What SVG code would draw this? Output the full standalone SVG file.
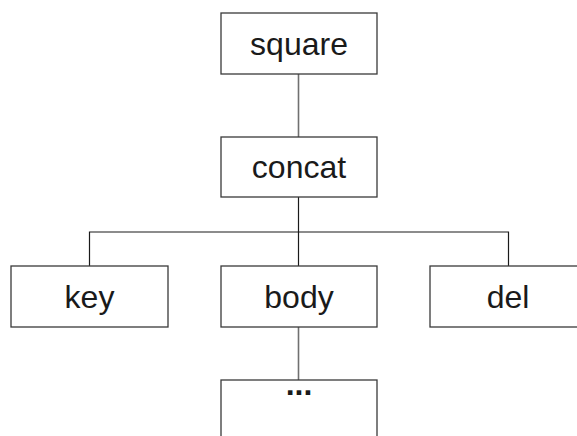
<svg xmlns="http://www.w3.org/2000/svg" width="577" height="436" viewBox="0 0 577 436">
<style>
.box{fill:#fff;stroke:#3a3a3a;stroke-width:1.3}
.lbl{font-family:"Liberation Sans",Arial,sans-serif;font-size:32px;fill:#1a1a1a;text-anchor:middle}
.dots{font-weight:bold}
.c1{stroke:#707070;stroke-width:1.6;fill:none}
.c2{stroke:#1a1a1a;stroke-width:1.2;fill:none}
</style>
<rect width="577" height="436" fill="#fff"/>
<g id="connectors">
<line class="c1" x1="298.5" y1="74" x2="298.5" y2="137"/>
<line class="c2" x1="298.5" y1="197" x2="298.5" y2="232"/>
<polyline class="c2" points="89.5,266 89.5,232 508.5,232 508.5,266"/>
<line class="c2" x1="298.5" y1="232" x2="298.5" y2="266"/>
<line class="c1" x1="298.5" y1="327" x2="298.5" y2="380"/>
</g>
<g id="square"><rect class="box" x="221" y="13" width="156" height="61"/><text class="lbl" x="299" y="55">square</text></g>
<g id="concat"><rect class="box" x="221" y="137" width="156" height="60"/><text class="lbl" x="299" y="178">concat</text></g>
<g id="key"><rect class="box" x="11" y="266" width="157" height="61"/><text class="lbl" x="89.5" y="308">key</text></g>
<g id="body"><rect class="box" x="221" y="266" width="156" height="61"/><text class="lbl" x="299" y="308">body</text></g>
<g id="del"><rect class="box" x="430" y="266" width="157" height="61"/><text class="lbl" x="508" y="308">del</text></g>
<g id="more"><rect class="box" x="221" y="380" width="156" height="70"/><text class="lbl dots" x="299" y="395">...</text></g>
</svg>
